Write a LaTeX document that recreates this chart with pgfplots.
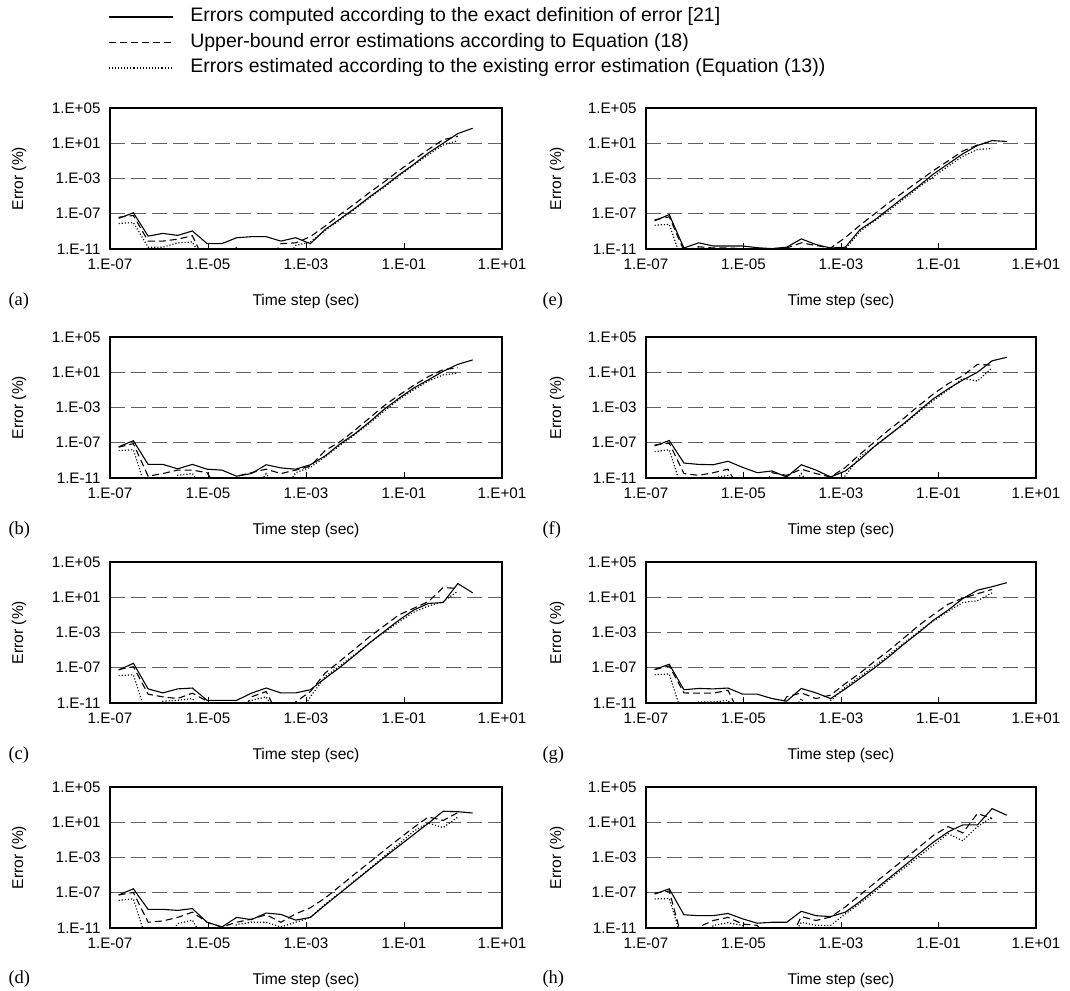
\documentclass[border=0pt]{standalone}
\usepackage{fontspec}
\setmainfont{Liberation Sans}
\newfontfamily\seriffont{Liberation Serif}
\usepackage{pgfplots}
\usepackage{pgfplotstable}
\pgfplotsset{compat=1.18}

% columns: x = time step, s = exact error, d = upper-bound estimate, t = existing estimate
\pgfplotstableread{
x s d t
1.5e-7 3.0e-8 4e-8 7.9e-9
3e-7 1.3e-7 6.3e-8 1e-8
6e-7 2.9e-10 7.9e-11 1.6e-11
1.2e-6 5.9e-10 7.9e-11 1.6e-11
2.4e-6 3.5e-10 1.3e-10 5e-11
4.8e-6 1.1e-9 3.2e-10 6.3e-11
9.6e-6 4.1e-11 1e-13 1e-13
1.92e-5 4.1e-11 1e-13 1e-13
3.84e-5 1.9e-10 1e-13 1.6e-11
7.68e-5 2.5e-10 1e-13 1e-13
1.536e-4 2.5e-10 1e-13 1e-13
3.072e-4 7.9e-11 4e-11 1e-13
6.144e-4 1.9e-10 5e-11 2.5e-11
1.2288e-3 4e-11 2.5e-10 6.3e-11
2.4576e-3 1.6e-9 4e-9 1.3e-9
4.9152e-3 2.5e-8 7.9e-8 2e-8
9.8304e-3 4e-7 1.3e-6 3.2e-7
1.96608e-2 7.9e-6 2.5e-5 6.3e-6
3.93216e-2 1.3e-4 4e-4 1e-4
7.86432e-2 2.5e-3 7.9e-3 2e-3
1.572864e-1 4e-2 0.126 3.2e-2
3.145728e-1 0.79 2 0.5
6.291456e-1 10 25 6.3
1.2582912 126 63 20
2.5165824 500 nan nan
}\tabA
\pgfplotstableread{
x s d t
1.5e-7 3.5e-8 3.2e-8 1.3e-8
3e-7 1.7e-7 7.9e-8 1.6e-8
6e-7 3.5e-10 1.6e-11 1e-13
1.2e-6 3.5e-10 3.2e-11 1e-13
2.4e-6 1.1e-10 7.9e-11 2e-11
4.8e-6 3.5e-10 7.9e-11 3.2e-11
9.6e-6 1e-10 4e-11 1e-13
1.92e-5 7.9e-11 1e-13 1e-13
3.84e-5 1.6e-11 1.6e-11 1e-13
7.68e-5 3.2e-11 4e-11 1e-13
1.536e-4 3.2e-10 1e-10 3.2e-11
3.072e-4 1.4e-10 3.2e-11 1e-13
6.144e-4 1e-10 7.9e-11 4e-11
1.2288e-3 3.2e-10 2.2e-10 1.6e-10
2.4576e-3 3.2e-9 1.3e-8 2.5e-9
4.9152e-3 7.1e-8 1.3e-7 5e-8
9.8304e-3 1e-6 2.5e-6 7.9e-7
1.96608e-2 2.2e-5 6.3e-5 1.6e-5
3.93216e-2 6.3e-4 1.6e-3 4e-4
7.86432e-2 1.1e-2 2.5e-2 7.9e-3
1.572864e-1 0.16 0.32 0.1
3.145728e-1 1.4 3.2 1
6.291456e-1 12.6 20 5
1.2582912 79 32 7.9
2.5165824 250 nan nan
}\tabB
\pgfplotstableread{
x s d t
1.5e-7 5.5e-8 6.3e-8 1.3e-8
3e-7 3.2e-7 1.3e-7 1.6e-8
6e-7 4e-10 1e-10 1e-13
1.2e-6 1.4e-10 5e-11 1.6e-11
2.4e-6 4e-10 3.2e-11 2e-11
4.8e-6 5e-10 1.3e-10 3.2e-11
9.6e-6 2e-11 1.6e-11 1e-13
1.92e-5 2e-11 1e-13 1e-13
3.84e-5 2e-11 1e-13 1e-13
7.68e-5 1.3e-10 5e-11 2e-11
1.536e-4 5e-10 2e-10 5e-11
3.072e-4 1.4e-10 1e-13 1e-13
6.144e-4 1.4e-10 1.3e-11 1e-13
1.2288e-3 3.2e-10 2e-10 5e-11
2.4576e-3 6.3e-9 2.5e-8 1e-8
4.9152e-3 1.1e-7 5.6e-7 1.6e-7
9.8304e-3 2.5e-6 1.3e-5 3.2e-6
1.96608e-2 6.3e-5 3.2e-4 6.3e-5
3.93216e-2 1.3e-3 5.6e-3 1e-3
7.86432e-2 2.5e-2 0.1 1.6e-2
1.572864e-1 0.35 0.56 0.2
3.145728e-1 2 3.2 1
6.291456e-1 2.5 126 3.2
1.2582912 355 100 50
2.5165824 32 nan nan
}\tabC
\pgfplotstableread{
x s d t
1.5e-7 5.6e-8 5.6e-8 1.4e-8
3e-7 2.8e-7 1.1e-7 2e-8
6e-7 1.3e-9 4.5e-11 1e-13
1.2e-6 1.3e-9 6.3e-11 1e-13
2.4e-6 1e-9 1.6e-10 3.2e-11
4.8e-6 1.6e-9 6.3e-10 7.9e-11
9.6e-6 4.5e-11 4.5e-11 1e-13
1.92e-5 1.3e-11 1.3e-11 1e-13
3.84e-5 1.6e-10 4.5e-11 2.5e-11
7.68e-5 8.9e-11 1e-10 4.5e-11
1.536e-4 5e-10 3.2e-10 4.5e-11
3.072e-4 3.5e-10 4.5e-11 1.3e-11
6.144e-4 7.9e-11 4e-10 4.5e-11
1.2288e-3 1.6e-10 2e-9 1.6e-10
2.4576e-3 4e-9 2.5e-8 5e-9
4.9152e-3 8.9e-8 5.6e-7 1e-7
9.8304e-3 2e-6 1.3e-5 2.5e-6
1.96608e-2 4.5e-5 2.8e-4 5e-5
3.93216e-2 1e-3 6.3e-3 1.3e-3
7.86432e-2 2e-2 0.13 3.2e-2
1.572864e-1 0.4 2.5 1
3.145728e-1 7.9 40 7.9
6.291456e-1 178 16 2.5
1.2582912 158 126 40
2.5165824 112 nan nan
}\tabD
\pgfplotstableread{
x s d t
1.5e-7 1.6e-8 2e-8 5e-9
3e-7 7.9e-8 4.5e-8 6.3e-9
6e-7 1.3e-11 6.3e-12 1e-13
1.2e-6 5e-11 1.8e-11 1.8e-11
2.4e-6 2.2e-11 1.3e-11 1e-13
4.8e-6 2.2e-11 1.3e-11 1e-13
9.6e-6 2.2e-11 1.1e-11 1e-13
1.92e-5 1.4e-11 1e-11 1e-13
3.84e-5 1.1e-11 1.1e-11 1e-13
7.68e-5 1.6e-11 1.3e-11 1e-13
1.536e-4 1.4e-10 5e-11 1.6e-11
3.072e-4 3.2e-11 2.5e-11 1e-13
6.144e-4 1.3e-11 1.3e-11 1e-13
1.2288e-3 1.6e-11 2e-10 1e-11
2.4576e-3 1.6e-9 5e-9 1e-9
4.9152e-3 2e-8 1e-7 1.6e-8
9.8304e-3 4e-7 2e-6 2.5e-7
1.96608e-2 7.9e-6 3.2e-5 5e-6
3.93216e-2 1.4e-4 5e-4 1e-4
7.86432e-2 3.2e-3 7.9e-3 1.6e-3
1.572864e-1 4.5e-2 0.1 2.5e-2
3.145728e-1 0.63 1.3 0.32
6.291456e-1 5.6 6.3 2
1.2582912 20 16 2.5
2.5165824 16 nan nan
}\tabE
\pgfplotstableread{
x s d t
1.5e-7 4.3e-8 5.6e-8 1e-8
3e-7 1.8e-7 8.9e-8 1.6e-8
6e-7 5e-10 3.2e-11 1e-13
1.2e-6 3.5e-10 2e-11 1e-13
2.4e-6 3.2e-10 4e-11 1e-11
4.8e-6 7.9e-10 1e-10 2e-11
9.6e-6 1.6e-10 1e-13 1e-13
1.92e-5 4e-11 1e-13 1e-13
3.84e-5 6.3e-11 4e-11 1e-13
7.68e-5 1.3e-11 2e-11 1e-13
1.536e-4 3.2e-10 1e-10 3.2e-11
3.072e-4 7.9e-11 3.2e-11 1e-13
6.144e-4 1.3e-11 1.3e-11 1e-13
1.2288e-3 6.3e-11 1.6e-10 2e-11
2.4576e-3 1.3e-9 5e-9 2.5e-9
4.9152e-3 4e-8 1.3e-7 4e-8
9.8304e-3 7.9e-7 3.2e-6 7.9e-7
1.96608e-2 1.6e-5 6.3e-5 1.3e-5
3.93216e-2 4e-4 1.6e-3 3.2e-4
7.86432e-2 1e-2 3.5e-2 6.3e-3
1.572864e-1 0.13 0.5 0.1
3.145728e-1 1.3 4 2
6.291456e-1 10 79 1
1.2582912 200 63 32
2.5165824 500 nan nan
}\tabF
\pgfplotstableread{
x s d t
1.5e-7 6.3e-8 6.3e-8 1.6e-8
3e-7 2.5e-7 1.6e-7 2e-8
6e-7 3.2e-10 1.4e-10 1e-13
1.2e-6 4.5e-10 1.3e-10 1.3e-11
2.4e-6 4e-10 1.3e-10 1.3e-11
4.8e-6 5e-10 2.8e-10 2e-11
9.6e-6 1e-10 1e-13 1e-13
1.92e-5 1e-10 1e-13 1e-13
3.84e-5 3.2e-11 1e-13 1e-13
7.68e-5 1.6e-11 5e-11 1e-13
1.536e-4 4.5e-10 1.4e-10 3.2e-11
3.072e-4 1.4e-10 3.2e-11 1e-13
6.144e-4 3.2e-11 7.9e-11 2e-11
1.2288e-3 4e-10 1.6e-9 6.3e-10
2.4576e-3 6.3e-9 2.5e-8 1e-8
4.9152e-3 1e-7 5.6e-7 1.6e-7
9.8304e-3 2e-6 1e-5 3.2e-6
1.96608e-2 5e-5 2.5e-4 6.3e-5
3.93216e-2 1e-3 6.3e-3 1.3e-3
7.86432e-2 2.5e-2 0.11 2e-2
1.572864e-1 0.35 1.6 0.25
3.145728e-1 7.1 7.9 2.5
6.291456e-1 63 25 4
1.2582912 158 79 32
2.5165824 450 nan nan
}\tabG
\pgfplotstableread{
x s d t
1.5e-7 7.1e-8 8.9e-8 2e-8
3e-7 2.8e-7 1.6e-7 2.2e-8
6e-7 3.2e-10 1e-13 1e-13
1.2e-6 2.5e-10 1.3e-11 1e-13
2.4e-6 2.5e-10 7.1e-11 2e-11
4.8e-6 4.5e-10 1.6e-10 4e-11
9.6e-6 1.1e-10 2.8e-11 2e-11
1.92e-5 3.5e-11 2e-11 1e-13
3.84e-5 4.5e-11 1e-13 1e-13
7.68e-5 4.5e-11 1e-13 1e-13
1.536e-4 7.9e-10 2e-10 4.5e-11
3.072e-4 2.5e-10 7.1e-11 2e-11
6.144e-4 2e-10 1.8e-10 2e-11
1.2288e-3 6.3e-10 2.5e-9 4e-10
2.4576e-3 1e-8 5.6e-8 6.3e-9
4.9152e-3 2.2e-7 1.3e-6 1.3e-7
9.8304e-3 5e-6 2.8e-5 3.2e-6
1.96608e-2 1.1e-4 6.3e-4 6.3e-5
3.93216e-2 2.5e-3 1.4e-2 1.3e-3
7.86432e-2 5.6e-2 0.32 2.5e-2
1.572864e-1 0.8 3.2 0.5
3.145728e-1 5 0.63 7.9e-2
6.291456e-1 5 100 3.2
1.2582912 355 25 40
2.5165824 63 nan nan
}\tabH

\pgfplotsset{
  errpanel/.style={
    scale only axis, height=141pt,
    xmin=1e-7, xmax=1e1, ymin=1e-11, ymax=1e5,
    xtick={1e-7,1e-5,1e-3,1e-1,1e1},
    xticklabels={1.E-07,1.E-05,1.E-03,1.E-01,1.E+01},
    ytick={1e-11,1e-7,1e-3,1e1,1e5},
    yticklabels={1.E-11,1.E-07,1.E-03,1.E+01,1.E+05},
    xminorticks=false, yminorticks=false,
    ymajorgrids,
    major grid style={black!62, line width=1.3pt, dash pattern=on 15pt off 6pt},
    axis line style={line width=1.2pt},
    tick align=inside, xtick pos=left,
    major tick length=6pt,
    xtick style={black, line width=0.9pt},
    ytick style={draw=none},
    tick label style={font=\fontsize{15.2}{17}\selectfont},
    xticklabel style={yshift=-6pt},
    yticklabel style={xshift=-6pt},
    xlabel={Time step (sec)},
    ylabel={Error (\%)},
    label style={font=\fontsize{15.6}{18}\selectfont},
    xlabel style={at={(axis description cs:0.5,0)}, anchor=center, yshift=-52pt},
  },
}

\begin{document}
\begin{tikzpicture}
\useasboundingbox (0pt,-990pt) rectangle (1070pt,0pt);

\begin{loglogaxis}[errpanel, width=392pt, ylabel style={at={(axis description cs:-0.232,0.5)}, anchor=center},
  at={(110pt,-108pt)}, anchor=north west,
  legend style={at={(axis description cs:-0.013,1.725)}, anchor=north west,
    draw=none, fill=none, font=\fontsize{19.5}{22}\selectfont,
    column sep=17pt, row sep=7.5pt,
    nodes={inner sep=0pt, text height=14pt, text depth=4pt}},
  legend cell align=left,
  legend image code/.code={\draw (0pt,0pt) -- (64pt,0pt);}]
\addplot[black, line width=1.1pt] table[x=x,y=s]{\tabA};
\addplot[black, line width=1.1pt, dash pattern=on 7pt off 4pt] table[x=x,y=d]{\tabA};
\addplot[black, line width=1.2pt, dash pattern=on 1.1pt off 2pt] table[x=x,y=t]{\tabA};
\legend{Errors computed according to the exact definition of error [21],
        Upper-bound error estimations according to Equation (18),
        Errors estimated according to the existing error estimation (Equation (13))}
\end{loglogaxis}

\begin{loglogaxis}[errpanel, width=392pt, ylabel style={at={(axis description cs:-0.232,0.5)}, anchor=center},
  at={(110pt,-337pt)}, anchor=north west]
\addplot[black, line width=1.1pt] table[x=x,y=s]{\tabB};
\addplot[black, line width=1.1pt, dash pattern=on 7pt off 4pt] table[x=x,y=d]{\tabB};
\addplot[black, line width=1.2pt, dash pattern=on 1.1pt off 2pt] table[x=x,y=t]{\tabB};
\end{loglogaxis}

\begin{loglogaxis}[errpanel, width=392pt, ylabel style={at={(axis description cs:-0.232,0.5)}, anchor=center},
  at={(110pt,-562pt)}, anchor=north west]
\addplot[black, line width=1.1pt] table[x=x,y=s]{\tabC};
\addplot[black, line width=1.1pt, dash pattern=on 7pt off 4pt] table[x=x,y=d]{\tabC};
\addplot[black, line width=1.2pt, dash pattern=on 1.1pt off 2pt] table[x=x,y=t]{\tabC};
\end{loglogaxis}

\begin{loglogaxis}[errpanel, width=392pt, ylabel style={at={(axis description cs:-0.232,0.5)}, anchor=center},
  at={(110pt,-787pt)}, anchor=north west]
\addplot[black, line width=1.1pt] table[x=x,y=s]{\tabD};
\addplot[black, line width=1.1pt, dash pattern=on 7pt off 4pt] table[x=x,y=d]{\tabD};
\addplot[black, line width=1.2pt, dash pattern=on 1.1pt off 2pt] table[x=x,y=t]{\tabD};
\end{loglogaxis}

\begin{loglogaxis}[errpanel, width=390pt, ylabel style={at={(axis description cs:-0.228,0.5)}, anchor=center},
  at={(646pt,-108pt)}, anchor=north west]
\addplot[black, line width=1.1pt] table[x=x,y=s]{\tabE};
\addplot[black, line width=1.1pt, dash pattern=on 7pt off 4pt] table[x=x,y=d]{\tabE};
\addplot[black, line width=1.2pt, dash pattern=on 1.1pt off 2pt] table[x=x,y=t]{\tabE};
\end{loglogaxis}

\begin{loglogaxis}[errpanel, width=390pt, ylabel style={at={(axis description cs:-0.228,0.5)}, anchor=center},
  at={(646pt,-337pt)}, anchor=north west]
\addplot[black, line width=1.1pt] table[x=x,y=s]{\tabF};
\addplot[black, line width=1.1pt, dash pattern=on 7pt off 4pt] table[x=x,y=d]{\tabF};
\addplot[black, line width=1.2pt, dash pattern=on 1.1pt off 2pt] table[x=x,y=t]{\tabF};
\end{loglogaxis}

\begin{loglogaxis}[errpanel, width=390pt, ylabel style={at={(axis description cs:-0.228,0.5)}, anchor=center},
  at={(646pt,-562pt)}, anchor=north west]
\addplot[black, line width=1.1pt] table[x=x,y=s]{\tabG};
\addplot[black, line width=1.1pt, dash pattern=on 7pt off 4pt] table[x=x,y=d]{\tabG};
\addplot[black, line width=1.2pt, dash pattern=on 1.1pt off 2pt] table[x=x,y=t]{\tabG};
\end{loglogaxis}

\begin{loglogaxis}[errpanel, width=390pt, ylabel style={at={(axis description cs:-0.228,0.5)}, anchor=center},
  at={(646pt,-787pt)}, anchor=north west]
\addplot[black, line width=1.1pt] table[x=x,y=s]{\tabH};
\addplot[black, line width=1.1pt, dash pattern=on 7pt off 4pt] table[x=x,y=d]{\tabH};
\addplot[black, line width=1.2pt, dash pattern=on 1.1pt off 2pt] table[x=x,y=t]{\tabH};
\end{loglogaxis}

\begin{scope}[every node/.style={anchor=west, font=\seriffont\fontsize{18.5}{21}\selectfont}]
\node at (5pt,-301pt) {(a)};
\node at (5pt,-530pt) {(b)};
\node at (5pt,-755pt) {(c)};
\node at (5pt,-979pt) {(d)};
\node at (539pt,-301pt) {(e)};
\node at (539pt,-530pt) {(f)};
\node at (539pt,-755pt) {(g)};
\node at (539pt,-979pt) {(h)};
\end{scope}
\end{tikzpicture}
\end{document}
